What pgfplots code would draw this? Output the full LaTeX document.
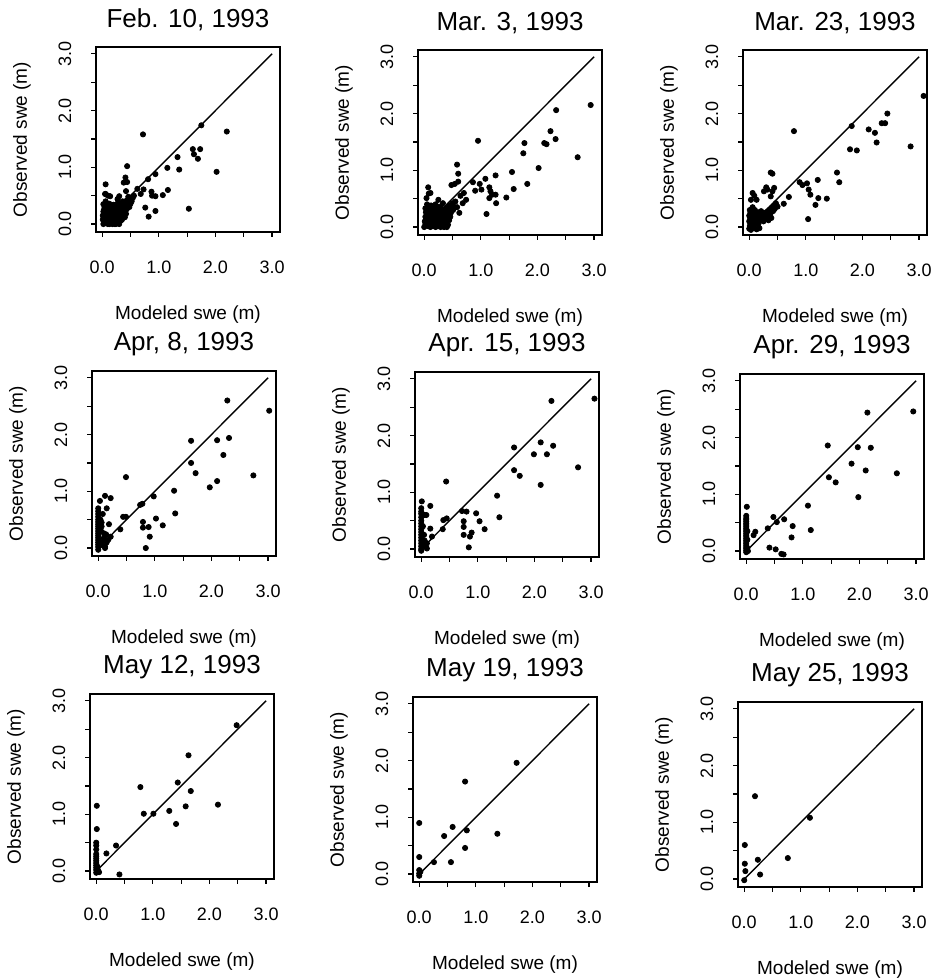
\documentclass[border=0pt]{standalone}
\usepackage{fontspec}
\setmainfont{Liberation Sans}
\usepackage{pgfplots}
\pgfplotsset{compat=1.18}

% one panel of the 3x3 grid, R-like look
\pgfplotsset{swe/.style={
    scale only axis, width=92pt, height=92.5pt,
    anchor=south west,
    xmin=-0.11, xmax=3.14, ymin=-0.14, ymax=3.12,
    axis line style={line width=0.8pt},
    xtick={0,0.5,...,3}, ytick={0,0.5,...,3},
    xticklabels={0.0,,1.0,,2.0,,3.0}, yticklabels={0.0,,1.0,,2.0,,3.0},
    tick pos=left, tick align=outside, major tick length=2.5pt,
    tick style={black, line width=0.6pt},
    /pgf/number format/assume math mode=true,
    xticklabel style={anchor=center, yshift=-15pt, font=\fontsize{9}{10}\selectfont},
    yticklabel style={rotate=90, anchor=center, yshift=13pt, font=\fontsize{9}{10}\selectfont},
    xlabel={Modeled swe (m)}, ylabel={Observed swe (m)},
    xlabel style={at={(axis description cs:0.5,0)}, anchor=center, yshift=-41.5pt, font=\fontsize{9.5}{11}\selectfont},
    ylabel style={at={(axis description cs:0,0.5)}, anchor=center, yshift=37pt, font=\fontsize{9.5}{11}\selectfont},
    title style={at={(axis description cs:0.5,1)}, anchor=center, yshift=7.5pt, font=\fontsize{13}{15}\selectfont},
  },
  pts/.style={only marks, mark=*, mark size=1.3pt, black},
  oneone/.style={black, line width=0.7pt},
}

\begin{document}
\begin{tikzpicture}
\path[use as bounding box] (0,0) rectangle (465pt,489pt);

% ---- row 1
\begin{axis}[swe, at={(48pt,373pt)}, title={Feb. 10, 1993}]
  \addplot[oneone] coordinates {(0,0) (3,3)};
  \addplot[pts] coordinates {
    (0.72,1.58) (1.75,1.74) (2.20,1.63) (1.60,1.32) (1.73,1.32) (1.62,1.23) (1.69,1.15) (1.33,1.18)
    (0.44,1.02) (1.15,0.99) (1.36,0.96) (2.02,0.92) (0.94,0.88) (0.38,0.73) (0.44,0.74) (0.41,0.82)
    (0.81,0.79) (0.73,0.61) (0.42,0.58) (1.16,0.60) (1.07,0.51) (0.87,0.57) (0.88,0.50) (0.94,0.49)
    (0.68,0.53) (0.06,0.70) (0.06,0.53) (0.10,0.50) (0.27,0.44) (0.76,0.29) (1.53,0.27) (0.94,0.23)
    (0.82,0.13) (0.30,0.49) (0.05,0.53) (0.14,0.49) (0.62,0.62) (0.56,0.50)
    (0.02,0.00) (0.03,0.05) (0.04,0.10) (0.05,0.15) (0.05,0.22) (0.06,0.28) (0.07,0.02) (0.08,0.08)
    (0.08,0.18) (0.09,0.25) (0.10,0.00) (0.10,0.12) (0.11,0.30) (0.12,0.05) (0.13,0.20) (0.14,0.15)
    (0.15,0.02) (0.15,0.26) (0.16,0.09) (0.17,0.18) (0.18,0.00) (0.18,0.30) (0.19,0.12) (0.20,0.22)
    (0.21,0.05) (0.22,0.16) (0.23,0.26) (0.24,0.00) (0.25,0.10) (0.25,0.20) (0.26,0.30) (0.27,0.14)
    (0.28,0.04) (0.29,0.24) (0.30,0.18) (0.31,0.10) (0.32,0.28) (0.33,0.20) (0.34,0.15) (0.35,0.32)
    (0.36,0.24) (0.37,0.18) (0.38,0.36) (0.39,0.28) (0.40,0.22) (0.41,0.40) (0.42,0.32) (0.43,0.26)
    (0.44,0.42) (0.45,0.35) (0.47,0.38) (0.48,0.30) (0.50,0.44) (0.52,0.40) (0.30,0.00) (0.35,0.08)
    (0.02,0.35) (0.06,0.40) (0.12,0.36) (0.20,0.34) (0.28,0.38) (0.46,0.48) (0.40,0.12) (0.03,0.18)
    (0.01,0.08) (0.22,0.00) (0.14,0.32)
    (0.01,0.15) (0.03,0.25) (0.04,0.30) (0.06,0.06) (0.07,0.14) (0.09,0.20) (0.11,0.08) (0.12,0.26)
    (0.13,0.00) (0.14,0.10) (0.16,0.22) (0.17,0.04) (0.18,0.14) (0.20,0.08) (0.21,0.28) (0.23,0.12)
    (0.24,0.18) (0.26,0.06) (0.27,0.24) (0.29,0.10) (0.31,0.20) (0.33,0.06) (0.34,0.26) (0.36,0.14)
    (0.38,0.22) (0.40,0.30) (0.42,0.18) (0.44,0.28) (0.46,0.36) (0.48,0.44) (0.50,0.36) (0.54,0.46)
    (0.02,0.22) (0.08,0.32) (0.16,0.34) (0.24,0.30) (0.32,0.36) (0.36,0.40)
  };
\end{axis}

\begin{axis}[swe, at={(209pt,371.5pt)}, title={Mar. 3, 1993}]
  \addplot[oneone] coordinates {(0,0) (3,3)};
  \addplot[pts] coordinates {
    (0.95,1.52) (2.94,2.15) (2.33,2.06) (2.23,1.69) (2.12,1.48) (2.16,1.46) (2.32,1.55) (1.77,1.48)
    (1.75,1.30) (2.71,1.23) (0.58,1.10) (2.02,1.04) (1.55,0.97) (1.26,0.91) (1.08,0.85) (0.98,0.76)
    (0.86,0.79) (1.01,0.66) (0.90,0.64) (1.15,0.70) (1.17,0.63) (1.58,0.67) (1.82,0.76) (1.15,0.51)
    (1.20,0.57) (1.26,0.57) (1.27,0.42) (1.45,0.52) (1.10,0.23) (0.60,0.94) (0.60,0.80) (0.48,0.74)
    (0.54,0.76) (0.74,0.48) (0.68,0.42) (0.62,0.25) (0.07,0.70) (0.11,0.60) (0.04,0.51) (0.07,0.25)
    (0.08,0.59) (0.64,0.55) (0.70,0.60) (0.58,0.35)
    (0.00,0.00) (0.02,0.05) (0.03,0.12) (0.04,0.20) (0.05,0.28) (0.06,0.02) (0.07,0.09) (0.08,0.16)
    (0.09,0.24) (0.10,0.32) (0.11,0.00) (0.12,0.06) (0.13,0.13) (0.14,0.20) (0.15,0.27) (0.16,0.03)
    (0.17,0.10) (0.18,0.17) (0.19,0.24) (0.20,0.00) (0.21,0.30) (0.22,0.08) (0.23,0.14) (0.24,0.21)
    (0.25,0.02) (0.26,0.27) (0.27,0.10) (0.28,0.17) (0.29,0.00) (0.30,0.23) (0.31,0.06) (0.32,0.30)
    (0.33,0.14) (0.34,0.20) (0.35,0.00) (0.36,0.26) (0.37,0.08) (0.38,0.33) (0.39,0.16) (0.40,0.22)
    (0.42,0.04) (0.43,0.30) (0.44,0.12) (0.45,0.38) (0.47,0.25) (0.48,0.32) (0.50,0.42) (0.52,0.36)
    (0.55,0.45) (0.05,0.40) (0.12,0.38) (0.20,0.40) (0.28,0.36) (0.02,0.33) (0.46,0.18) (0.40,0.00)
    (0.33,0.42) (0.25,0.48)
    (0.01,0.10) (0.02,0.18) (0.03,0.26) (0.05,0.08) (0.06,0.15) (0.08,0.22) (0.09,0.04) (0.10,0.12)
    (0.11,0.20) (0.12,0.28) (0.14,0.08) (0.15,0.16) (0.16,0.22) (0.18,0.06) (0.19,0.13) (0.21,0.20)
    (0.22,0.26) (0.23,0.04) (0.25,0.10) (0.26,0.18) (0.28,0.06) (0.29,0.13) (0.30,0.30) (0.32,0.10)
    (0.33,0.24) (0.35,0.16) (0.36,0.04) (0.38,0.12) (0.39,0.26) (0.41,0.18) (0.42,0.34) (0.44,0.24)
    (0.46,0.30) (0.49,0.38) (0.51,0.30) (0.07,0.34) (0.17,0.32) (0.27,0.33)
  };
\end{axis}

\begin{axis}[swe, at={(371.5pt,371.5pt)}, title={Mar. 23, 1993}]
  \addplot[oneone] coordinates {(0,0) (3,3)};
  \addplot[pts] coordinates {
    (3.08,2.31) (0.79,1.69) (1.81,1.78) (2.11,1.72) (2.22,1.66) (2.34,1.83) (2.40,1.83) (2.44,2.00)
    (2.25,1.49) (2.85,1.42) (1.78,1.37) (1.90,1.35) (0.41,0.94) (0.38,0.96) (1.55,0.96) (1.59,0.79)
    (1.21,0.83) (0.89,0.79) (1.02,0.77) (0.94,0.74) (1.05,0.66) (1.08,0.57) (1.22,0.51) (1.37,0.50)
    (1.17,0.39) (1.04,0.14) (0.70,0.53) (0.61,0.41) (0.06,0.60) (0.03,0.48) (0.13,0.48) (0.26,0.63)
    (0.32,0.66) (0.44,0.69) (0.41,0.63) (0.38,0.54) (0.47,0.42) (0.50,0.36) (0.18,-0.02) (0.30,0.70)
    (0.09,0.55)
    (0.00,-0.03) (0.01,0.02) (0.02,0.08) (0.02,0.15) (0.03,0.22) (0.04,0.28) (0.05,0.05) (0.06,0.12)
    (0.07,0.18) (0.08,0.25) (0.09,0.00) (0.10,0.30) (0.11,0.10) (0.12,0.20) (0.14,0.15) (0.15,0.25)
    (0.16,0.05) (0.18,0.18) (0.19,0.12) (0.20,0.22) (0.22,0.16) (0.24,0.25) (0.25,0.10) (0.27,0.20)
    (0.29,0.14) (0.30,0.26) (0.32,0.18) (0.34,0.12) (0.35,0.30) (0.37,0.22) (0.39,0.16) (0.40,0.34)
    (0.42,0.28) (0.44,0.38) (0.45,0.32) (0.47,0.40) (0.03,-0.05) (0.06,0.35) (0.13,-0.04) (0.26,0.15)
    (0.21,0.28) (0.10,0.24)
    (0.01,0.12) (0.02,0.25) (0.03,0.05) (0.04,0.18) (0.05,0.30) (0.07,0.08) (0.08,0.14) (0.09,0.20)
    (0.11,0.26) (0.12,0.06) (0.13,0.16) (0.15,0.20) (0.17,0.12) (0.17,0.26) (0.20,0.14) (0.23,0.20)
    (0.26,0.24) (0.28,0.18) (0.31,0.22) (0.33,0.28) (0.36,0.26) (0.38,0.30) (0.41,0.34) (0.43,0.30)
    (0.00,0.20) (0.00,0.10) (0.01,0.30) (0.06,-0.02)
  };
\end{axis}

% ---- row 2
\begin{axis}[swe, at={(46pt,211pt)}, title={Apr, 8, 1993}]
  \addplot[oneone] coordinates {(0,0) (3,3)};
  \addplot[pts] coordinates {
    (2.28,2.60) (3.02,2.42) (1.64,1.89) (2.10,1.90) (2.31,1.94) (2.21,1.64) (1.64,1.50) (1.72,1.32)
    (2.74,1.28) (2.10,1.18) (1.97,1.07) (0.49,1.25) (1.34,1.01) (0.98,0.91) (0.78,0.78) (0.74,0.76)
    (0.44,0.55) (0.49,0.55) (1.36,0.61) (1.02,0.52) (1.14,0.40) (0.79,0.46) (0.79,0.36) (0.89,0.37)
    (0.91,0.20) (0.84,0.00) (0.39,0.33) (0.03,0.83) (0.12,0.92) (0.22,0.88) (0.15,0.70) (0.19,0.42)
    (0.10,0.26) (0.14,0.24)
    (0,0.70) (0,0.65) (0,0.60) (0,0.55) (0,0.50) (0,0.46) (0,0.42) (0,0.38) (0,0.34) (0,0.30)
    (0,0.26) (0,0.22) (0,0.18) (0,0.14) (0,0.10) (0,0.06) (0,0.02) (0,-0.03) (0.05,0.05) (0.08,0.12)
    (0.12,0.03) (0.15,0.10) (0.10,0.18) (0.05,0.30) (0.06,0.45) (0.18,0.15) (0.22,0.20) (0.08,0.60)
    (0.04,0.50) (0.12,0.00) (0.06,0.38)
  };
\end{axis}

\begin{axis}[swe, at={(207.5pt,210.5pt)}, title={Apr. 15, 1993}]
  \addplot[oneone] coordinates {(0,0) (3,3)};
  \addplot[pts] coordinates {
    (2.30,2.61) (3.06,2.65) (1.64,1.79) (2.11,1.88) (2.33,1.82) (1.99,1.67) (2.22,1.67) (1.64,1.39)
    (1.74,1.29) (2.77,1.44) (2.11,1.13) (0.44,1.19) (1.34,0.94) (1.38,0.56) (0.72,0.67) (0.80,0.66)
    (0.97,0.63) (0.75,0.49) (0.75,0.39) (1.03,0.49) (1.12,0.35) (0.75,0.25) (0.89,0.29) (0.86,0.22)
    (0.84,0.03) (0.39,0.51) (0.45,0.54) (0.38,0.35) (0.16,0.76) (0.01,0.84) (0.06,0.60) (0.09,0.60)
    (0.16,0.36) (0.19,0.22) (0.10,0.01)
    (0,0.72) (0,0.66) (0,0.62) (0,0.56) (0,0.50) (0,0.45) (0,0.40) (0,0.35) (0,0.30) (0,0.25)
    (0,0.20) (0,0.15) (0,0.10) (0,0.05) (0,0.00) (0,-0.03) (0.04,0.08) (0.06,0.15) (0.08,0.04)
    (0.05,0.25) (0.10,0.10) (0.03,0.40)
  };
\end{axis}

\begin{axis}[swe, at={(370pt,209.5pt)}, title={Apr. 29, 1993}]
  \addplot[oneone] coordinates {(0,0) (3,3)};
  \addplot[pts] coordinates {
    (2.14,2.44) (2.95,2.46) (1.44,1.86) (1.97,1.83) (2.20,1.82) (1.86,1.54) (2.11,1.42) (2.66,1.37)
    (1.46,1.30) (1.58,1.21) (1.98,0.95) (1.09,0.80) (0.01,0.78) (0.48,0.60) (0.54,0.51) (0.67,0.56)
    (0.82,0.44) (0.38,0.40) (0.16,0.34) (0.13,0.28) (1.14,0.37) (0.80,0.24) (0.41,0.06) (0.52,0.03)
    (0.62,-0.05) (0.66,-0.06)
    (0,0.62) (0,0.58) (0,0.55) (0,0.52) (0,0.49) (0,0.46) (0,0.43) (0,0.40) (0,0.37) (0,0.34)
    (0,0.31) (0,0.28) (0,0.25) (0,0.22) (0,0.19) (0,0.16) (0,0.13) (0,0.10) (0,0.07) (0,0.04)
    (0,0.01) (0,-0.02) (0.02,0.05) (0.02,0.20) (0.02,0.35) (0.03,0.00)
  };
\end{axis}

% ---- row 3
\begin{axis}[swe, at={(45pt,49.5pt)}, title={May 12, 1993}]
  \addplot[oneone] coordinates {(0,0) (3,3)};
  \addplot[pts] coordinates {
    (2.48,2.57) (1.63,2.04) (0.78,1.48) (1.44,1.56) (1.67,1.41) (0.84,1.01) (1.01,1.01) (1.29,1.06)
    (1.58,1.14) (2.15,1.17) (1.41,0.83) (0.01,1.15) (0.01,0.74) (0.35,0.45) (0.18,0.31) (0.41,-0.06)
    (0,0.50) (0,0.45) (0,0.38) (0,0.30) (0,0.26) (0,0.22) (0,0.18) (0,0.14) (0,0.10) (0,0.06)
    (0,0.02) (0,-0.03) (0.03,0.02) (0.05,-0.02) (0.02,0.08)
  };
\end{axis}

\begin{axis}[swe, at={(206.5pt,48pt)}, title={May 19, 1993}]
  \addplot[oneone] coordinates {(0,0) (3,3)};
  \addplot[pts] coordinates {
    (1.72,1.96) (0.81,1.63) (0.00,0.90) (0.59,0.83) (0.44,0.67) (0.84,0.77) (1.38,0.71) (0.81,0.46)
    (0.00,0.30) (0.26,0.21) (0.56,0.21) (0.00,0.07) (0.00,0.01) (0.00,-0.03) (0.02,0.04)
  };
\end{axis}

\begin{axis}[swe, at={(369pt,45.5pt)}, title={May 25, 1993}]
  \addplot[oneone] coordinates {(0,0) (3,3)};
  \addplot[pts] coordinates {
    (0.19,1.46) (1.16,1.08) (0.01,0.60) (0.01,0.27) (0.02,0.14) (0.24,0.34) (0.77,0.37) (0.28,0.08)
    (0.00,-0.02)
  };
\end{axis}
\end{tikzpicture}
\end{document}
